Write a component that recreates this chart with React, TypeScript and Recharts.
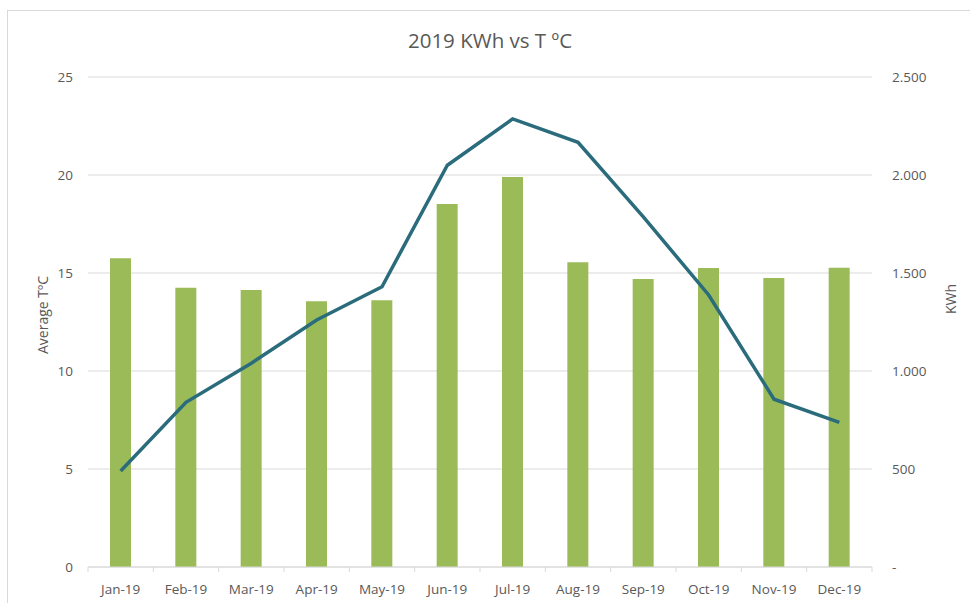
import React from 'react';
import { ComposedChart, Bar, Line, XAxis, YAxis, CartesianGrid } from 'recharts';

const months = ['Jan-19', 'Feb-19', 'Mar-19', 'Apr-19', 'May-19', 'Jun-19', 'Jul-19', 'Aug-19', 'Sep-19', 'Oct-19', 'Nov-19', 'Dec-19'];
const kwh = [1575, 1425, 1413, 1356, 1361, 1852, 1990, 1555, 1469, 1526, 1474, 1527];
const temp = [4.9, 8.4, 10.4, 12.6, 14.3, 20.5, 22.86, 21.67, 17.86, 13.88, 8.56, 7.38];
const tempTicks = [0, 5, 10, 15, 20, 25];
const kwhTicks = [0, 500, 1000, 1500, 2000, 2500];

const data = months.map((m, i) => ({ month: m, kwh: kwh[i], temp: temp[i] }));

const W = 970;
const H = 603;
const LEFT = 88;
const RIGHT = 98;
const TOP = 77;
const BOTTOM = 36;
const band = (W - LEFT - RIGHT) / months.length;

const textColor = '#595959';
const gridColor = '#d9d9d9';
const font = "'Open Sans', sans-serif";

const fmtKwh = (v: number) => (v === 0 ? '-' : String(v).replace(/\B(?=(\d{3})+(?!\d))/g, '.'));

function MonthTick(props: any) {
  const { x, y, payload, index } = props;
  return (
    <g>
      <line x1={x - band / 2} x2={x - band / 2} y1={y} y2={y + 5} stroke={gridColor} />
      {index === months.length - 1 && (
        <line x1={x + band / 2} x2={x + band / 2} y1={y} y2={y + 5} stroke={gridColor} />
      )}
      <text x={x} y={y + 27} textAnchor='middle' fill={textColor} fontSize={13.5} fontFamily={font}>
        {payload.value}
      </text>
    </g>
  );
}

export default function App() {
  return (
    <div style={{ position: 'absolute', left: 0, top: 0, width: W, height: H, overflow: 'hidden', background: '#fff', fontFamily: font }}>
      <div style={{ position: 'absolute', left: 7, top: 10, width: W, height: H, border: `1px solid ${gridColor}` }} />
      <div style={{ position: 'absolute', left: 0, top: 26, width: 980, textAlign: 'center', fontSize: 20.5, color: textColor }}>
        2019 KWh vs T ºC
      </div>
      <ComposedChart width={W} height={H} data={data} margin={{ top: TOP, right: 0, bottom: 0, left: 0 }} barSize={21}>
        <CartesianGrid vertical={false} stroke={gridColor} yAxisId='t' />
        <XAxis dataKey='month' height={BOTTOM} stroke={gridColor} tickSize={0} tickMargin={0} tick={<MonthTick />} interval={0} />
        <YAxis yAxisId='t' orientation='left' width={LEFT} domain={[0, 25]} ticks={tempTicks} axisLine={false} tickLine={false}
          tickSize={0} tickMargin={15} tick={{ fill: textColor, fontSize: 13.5, fontFamily: font }} />
        <YAxis yAxisId='k' orientation='right' width={RIGHT} domain={[0, 2500]} ticks={kwhTicks} axisLine={false} tickLine={false}
          tickSize={0} tickMargin={20} tickFormatter={fmtKwh} tick={{ fill: textColor, fontSize: 13.5, fontFamily: font, textAnchor: 'start' }} />
        <Bar yAxisId='k' dataKey='kwh' fill='#9bbb59' isAnimationActive={false} />
        <Line yAxisId='t' dataKey='temp' type='linear' stroke='#2a6c7c' strokeWidth={3.5} dot={false} activeDot={false} isAnimationActive={false} />
      </ComposedChart>
      <div style={{ position: 'absolute', left: 42, top: 315, transform: 'translate(-50%, -50%) rotate(-90deg)', whiteSpace: 'nowrap', fontSize: 14, color: textColor }}>
        Average TºC
      </div>
      <div style={{ position: 'absolute', left: 950, top: 299, transform: 'translate(-50%, -50%) rotate(-90deg)', whiteSpace: 'nowrap', fontSize: 14, color: textColor }}>
        KWh
      </div>
    </div>
  );
}
